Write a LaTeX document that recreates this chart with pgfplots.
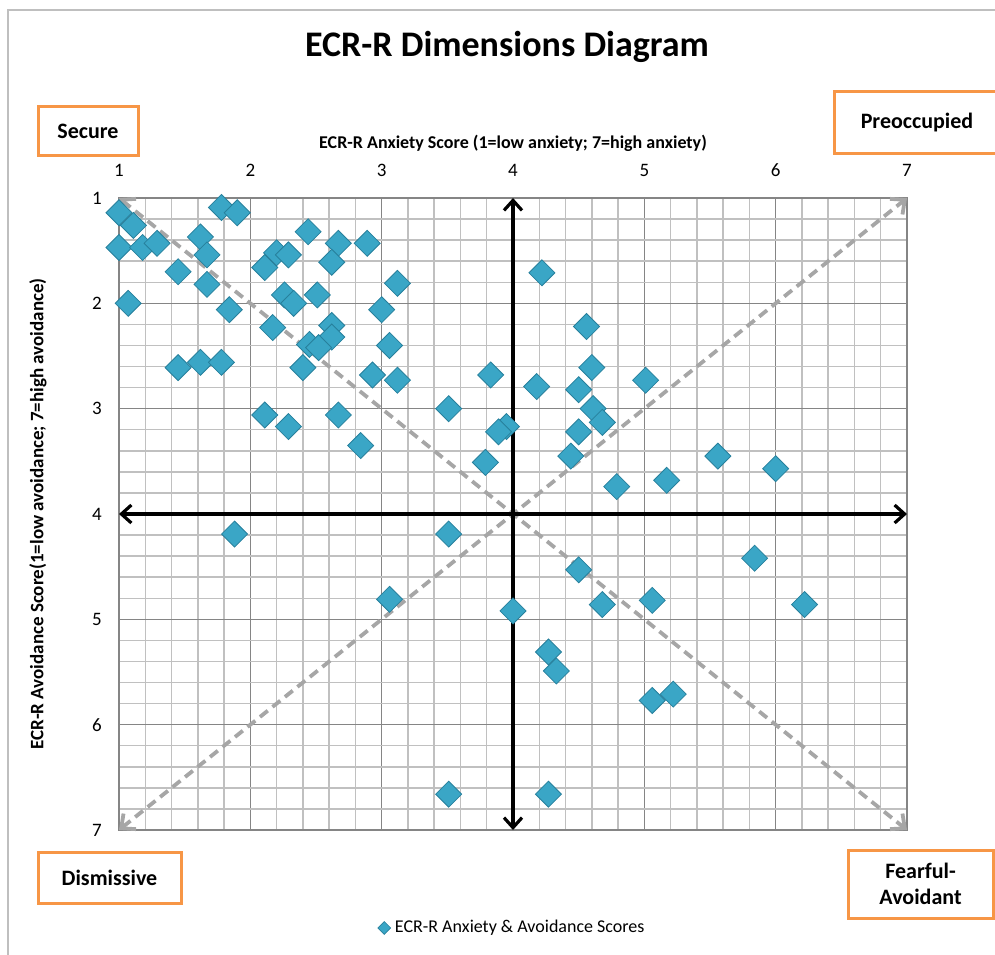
\documentclass[border=0pt]{standalone}
\usepackage{fontspec}
\setmainfont{Carlito}
\usepackage{pgfplots}
\usepackage{pgfplotstable}
\pgfplotsset{compat=1.18}
\usetikzlibrary{arrows.meta}
\definecolor{marker}{HTML}{3AA6C6}
\definecolor{markeredge}{HTML}{27809C}
\definecolor{orangebox}{HTML}{F79646}
\definecolor{majgrid}{HTML}{858585}
\definecolor{mingrid}{HTML}{C0C0C0}
\definecolor{diag}{HTML}{A6A6A6}
\definecolor{border}{HTML}{BFBFBF}
\pgfplotstableread{
x y
1.00 1.14
1.11 1.26
1.00 1.47
1.18 1.47
1.29 1.43
1.07 2.00
1.45 1.70
1.62 1.37
1.67 1.54
1.67 1.82
1.78 1.09
1.90 1.14
1.84 2.06
1.45 2.61
1.62 2.56
1.78 2.56
2.11 1.66
2.20 1.52
2.29 1.54
2.44 1.32
2.67 1.43
2.89 1.43
2.62 1.61
3.12 1.81
2.26 1.92
2.33 2.00
2.51 1.92
3.00 2.06
2.17 2.23
2.62 2.21
2.62 2.32
2.45 2.39
2.52 2.42
2.40 2.61
2.93 2.68
3.12 2.73
3.06 2.40
2.11 3.06
2.29 3.17
2.67 3.06
2.84 3.35
4.22 1.71
4.56 2.22
4.60 2.61
3.83 2.68
4.18 2.79
4.50 2.82
5.01 2.73
3.51 3.00
4.61 3.00
4.68 3.13
3.95 3.17
3.89 3.22
4.50 3.22
3.79 3.51
4.44 3.45
4.79 3.74
5.17 3.68
5.56 3.45
6.00 3.57
1.88 4.19
3.51 4.19
3.06 4.81
3.51 6.66
4.50 4.53
4.00 4.92
4.68 4.86
5.06 4.82
5.84 4.42
6.22 4.86
4.27 5.31
4.33 5.49
5.06 5.77
5.22 5.71
4.27 6.66
}\scores
\begin{document}
\begin{tikzpicture}
\useasboundingbox (0,0) rectangle (497.5pt,477pt);
\draw[border, line width=0.6pt] (4pt,-2pt) -- (4pt,472pt) -- (500pt,472pt);
\node[font=\bfseries\fontsize{18}{22}\selectfont] at (253.5pt,453.5pt) {ECR-R Dimensions Diagram};
\begin{axis}[
  at={(59.5pt,62pt)}, anchor=south west,
  scale only axis, width=394pt, height=316pt,
  xmin=1, xmax=7, ymin=1, ymax=7, y dir=reverse,
  xtick={1,...,7}, ytick={1,...,7},
  minor tick num=4,
  grid=both,
  major grid style={majgrid, line width=0.75pt},
  minor grid style={mingrid, line width=0.75pt},
  axis line style={majgrid, line width=0.75pt},
  major tick length=0pt, minor tick length=0pt,
  xticklabel pos=top,
  tick label style={font=\fontsize{9.5}{12}\selectfont},
  xticklabel style={anchor=center, yshift=14pt},
  yticklabel style={anchor=center, xshift=-11pt},
  /pgf/number format/assume math mode=true,
  xlabel={ECR-R Anxiety Score (1=low anxiety; 7=high anxiety)},
  xlabel style={font=\bfseries\fontsize{9}{11}\selectfont, at={(axis description cs:0.5,1.087)}, anchor=center},
  ylabel={ECR-R Avoidance Score(1=low avoidance; 7=high avoidance)},
  ylabel style={font=\bfseries\fontsize{9.5}{11}\selectfont, at={(axis description cs:-0.1028,0.5)}, anchor=center},
  legend style={at={(0.5,-0.155)}, anchor=center, draw=none, fill=none, font=\fontsize{9}{11}\selectfont, inner sep=0pt},
  legend image code/.code={\filldraw[fill=marker, draw=markeredge, line width=0.3pt] (0pt,3.2pt) -- (3.2pt,0pt) -- (0pt,-3.2pt) -- (-3.2pt,0pt) -- cycle;},
  clip=false,
]
\addplot[forget plot, diag, line width=1.9pt, dash pattern=on 5pt off 3pt, {Straight Barb[length=5.5pt,width=10pt]}-{Straight Barb[length=5.5pt,width=10pt]}] coordinates {(1,1) (7,7)};
\addplot[forget plot, diag, line width=1.9pt, dash pattern=on 5pt off 3pt, {Straight Barb[length=5.5pt,width=10pt]}-{Straight Barb[length=5.5pt,width=10pt]}] coordinates {(1,7) (7,1)};
\addplot[forget plot, black, line width=1.6pt, {Straight Barb[length=5pt,width=9pt]}-{Straight Barb[length=5pt,width=9pt]}] coordinates {(1,4) (7,4)};
\addplot[forget plot, black, line width=1.6pt, {Straight Barb[length=5pt,width=9pt]}-{Straight Barb[length=5pt,width=9pt]}] coordinates {(4,1) (4,7)};
\addplot[only marks, mark=square*, mark size=4.6pt, mark options={rotate=45, fill=marker, draw=markeredge, line width=0.4pt}] table[x=x, y=y] {\scores};
\addlegendentry{ECR-R Anxiety \& Avoidance Scores}
\end{axis}
\tikzset{qbox/.style={draw=orangebox, line width=1.5pt, fill=white}}
\filldraw[qbox] (19pt,399pt) rectangle (69pt,423.5pt);
\node[font=\bfseries\fontsize{11}{13}\selectfont] at (44pt,411.25pt) {Secure};
\filldraw[qbox] (417pt,400pt) rectangle (502pt,431pt);
\node[font=\bfseries\fontsize{11}{13}\selectfont] at (458.5pt,415.5pt) {Preoccupied};
\filldraw[qbox] (19pt,25.5pt) rectangle (90.5pt,51pt);
\node[font=\bfseries\fontsize{11}{13}\selectfont] at (54.75pt,38.25pt) {Dismissive};
\filldraw[qbox] (424pt,18pt) rectangle (496.5pt,52pt);
\node[font=\bfseries\fontsize{11}{13}\selectfont, align=center] at (460.25pt,35pt) {Fearful-\\Avoidant};
\end{tikzpicture}
\end{document}
